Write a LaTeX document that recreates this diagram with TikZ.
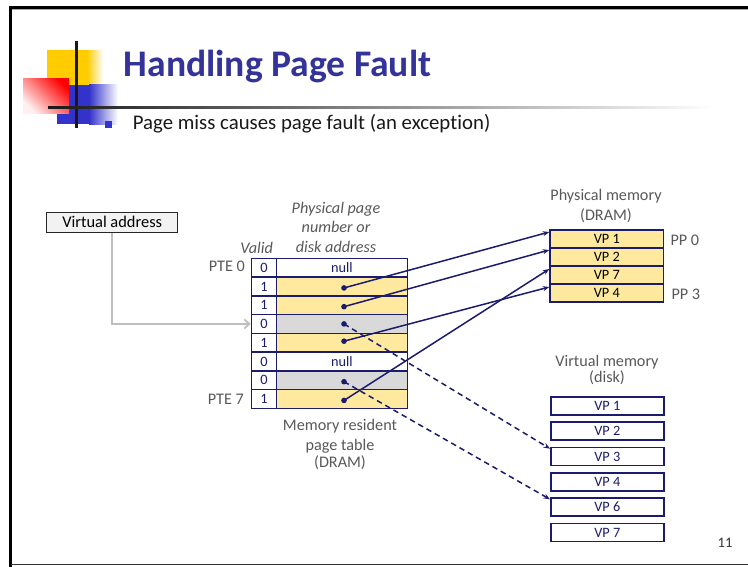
\documentclass[tikz,border=0pt]{standalone}
\usepackage{fontspec}
\setmainfont{Carlito}[Ligatures=NoCommon]
\usetikzlibrary{arrows.meta,calc}
\definecolor{navy}{RGB}{28,28,110}
\definecolor{ttl}{RGB}{51,51,153}
\definecolor{pyel}{RGB}{255,233,158}
\definecolor{pgray}{RGB}{217,217,217}
\definecolor{lgray}{RGB}{89,89,89}
\definecolor{ayel}{RGB}{255,204,0}
\definecolor{ablue}{RGB}{51,51,204}
\definecolor{agray}{RGB}{190,190,190}
\begin{document}
\begin{tikzpicture}[x=1pt,y=-1pt,
  vcell/.style={draw=navy, line width=1.6pt, minimum width=25pt, minimum height=18.75pt, inner sep=0pt, anchor=north west, text=navy, font=\fontsize{14.3}{16}\selectfont},
  dcell/.style={draw=navy, line width=1.6pt, minimum width=131pt, minimum height=18.75pt, inner sep=0pt, anchor=north west, text=navy, font=\fontsize{14.3}{16}\selectfont},
  pmcell/.style={draw=navy, line width=1.6pt, fill=pyel, minimum width=113.4pt, minimum height=18pt, inner sep=0pt, anchor=north west, text=black, font=\fontsize{14.3}{16}\selectfont},
  vmcell/.style={draw=navy, line width=1.6pt, fill=white, minimum width=113pt, minimum height=18pt, inner sep=0pt, anchor=north west, text=navy, font=\fontsize{14.3}{16}\selectfont},
  glabel/.style={text=lgray, inner sep=0pt, font=\fontsize{16.2}{19}\selectfont},
  parr/.style={draw=navy, line width=1.5pt, -{Stealth[length=6.5pt,width=5pt]}},
  darr/.style={draw=navy, line width=1.5pt, dash pattern=on 5.5pt off 4pt, -{Stealth[length=6.5pt,width=5pt]}},
  vaarr/.style={draw=agray, line width=1.8pt, -{Straight Barb[length=5pt,width=9pt]}},
  dotc/.style={fill=navy}
]
\useasboundingbox (0,0) rectangle (748,566);
\fill[white] (0,0) rectangle (748,566);
% frame
\draw[black!35, line width=0.8pt] (12,9.8) -- (760,9.8);
\draw[line width=3pt] (10.5,580) -- (10.5,7.5) -- (760,7.5);
\draw[black!80, line width=1pt] (10.5,564) -- (760,564);
% decoration
\fill[ayel] (47,50) rectangle (87,85);
\shade[left color=ayel, right color=white] (87,50) rectangle (103,85);
\fill[ablue] (57,84.5) rectangle (89,124);
\shade[left color=ablue, right color=white] (89,84.5) rectangle (118,124);
\shade[top color=red, bottom color=red!6, shading angle=-45] (23,78) rectangle (69,113);
\draw[black!90, line width=2.7pt] (76.5,41) -- (76.5,127.5);
\shade[left color=black!90, right color=white] (48,106.2) rectangle (715,108.8);
\fill[ablue] (105,121) rectangle (112,128);
% title
\node[anchor=base west, inner sep=0pt, text=ttl, font=\fontsize{37.6}{40}\selectfont\bfseries] (title) at (123.5,76) {Handling Page Fault};
\node[anchor=base west, inner sep=0pt, text=black!90, font=\fontsize{20.8}{24}\selectfont] (sub) at (132.7,129.3) {Page miss causes page fault (an excep\kern0pt tion)};
% virtual address
\node[draw=black!85, line width=1pt, fill=black!5, minimum width=131pt, minimum height=20pt, inner sep=0pt, font=\fontsize{16.4}{19}\selectfont] (va) at (112.2,222.3) {Virtual address};
% page table
\node[vcell] (v0) at (250.7,257.5) {0};
\node[dcell, fill=white] (d0) at (275.7,257.5) {null};
\node[vcell] (v1) at (250.7,276.25) {1};
\node[dcell, fill=pyel] (d1) at (275.7,276.25) {};
\node[vcell] (v2) at (250.7,295) {1};
\node[dcell, fill=pyel] (d2) at (275.7,295) {};
\node[vcell] (v3) at (250.7,313.75) {0};
\node[dcell, fill=pgray] (d3) at (275.7,313.75) {};
\node[vcell] (v4) at (250.7,332.5) {1};
\node[dcell, fill=pyel] (d4) at (275.7,332.5) {};
\node[vcell] (v5) at (250.7,351.25) {0};
\node[dcell, fill=white] (d5) at (275.7,351.25) {null};
\node[vcell] (v6) at (250.7,370) {0};
\node[dcell, fill=pgray] (d6) at (275.7,370) {};
\node[vcell] (v7) at (250.7,388.75) {1};
\node[dcell, fill=pyel] (d7) at (275.7,388.75) {};
% labels of table
\node[glabel, anchor=base] (valid) at (256.7,253) {\itshape Valid};
\node[glabel, anchor=base] (ph1) at (336,213.3) {\itshape Physical page};
\node[glabel, anchor=base] (ph2) at (336,232.7) {\itshape number or};
\node[glabel, anchor=base] (ph3) at (336,252.7) {\itshape disk address};
\node[glabel, anchor=base east] (pte0) at (245,271.7) {PTE 0};
\node[glabel, anchor=base east] (pte7) at (244,404) {PTE 7};
\node[glabel, anchor=base] (mr1) at (340,430.7) {Memory resident};
\node[glabel, anchor=base] (mr2) at (340,450.2) {page table};
\node[glabel, anchor=base] (mr3) at (340,467.7) {(DRAM)};
% physical memory
\node[glabel, anchor=base] (pmt1) at (606,200) {Physical memory};
\node[glabel, anchor=base] (pmt2) at (606,220.3) {(DRAM)};
\node[pmcell] (pm1) at (549.3,229) {VP 1};
\node[pmcell] (pm2) at (549.3,247) {VP 2};
\node[pmcell] (pm3) at (549.3,265) {VP 7};
\node[pmcell] (pm4) at (549.3,283) {VP 4};
\node[glabel, anchor=west] (pp0) at ($(pm1.east)+(6,1.5)$) {PP 0};
\node[glabel, anchor=west] (pp3) at ($(pm4.east)+(7,1.5)$) {PP 3};
% virtual memory
\node[glabel, anchor=base] (vmt1) at (607,366) {Virtual memory};
\node[glabel, anchor=base] (vmt2) at (607,382.3) {(disk)};
\node[vmcell] (vm1) at (550,396) {VP 1};
\node[vmcell] (vm2) at (550,421.3) {VP 2};
\node[vmcell] (vm3) at (550,446.7) {VP 3};
\node[vmcell] (vm4) at (550,472) {VP 4};
\node[vmcell] (vm6) at (550,497.3) {VP 6};
\node[vmcell] (vm7) at (550,522.7) {VP 7};
% page number
\node[anchor=base, inner sep=0pt, text=black!80, font=\fontsize{14.5}{17}\selectfont] (pgno) at (725,547.3) {11};
% dots
\coordinate (p1) at ($(d1.center)+(2,1.5)$);
\coordinate (p2) at ($(d2.center)+(2,1.5)$);
\coordinate (p3) at ($(d3.center)+(2,0)$);
\coordinate (p4) at ($(d4.center)+(2,-1.5)$);
\coordinate (p6) at ($(d6.center)+(2,1.5)$);
\coordinate (p7) at ($(d7.center)+(2,1.5)$);
% connectors
\draw[vaarr] (va.south) |- (v3.west);
\draw[parr] (p1) -- ($(pm1.north west)+(0,3)$);
\draw[parr] (p2) -- ($(pm2.north west)+(0,3)$);
\draw[parr] (p4) -- ($(pm4.north west)+(0,4)$);
\draw[parr] (p7) -- ($(pm3.north west)+(0,4)$);
\draw[darr] (p3) -- ($(vm3.north west)+(0,2)$);
\draw[darr] (p6) -- ($(vm6.north west)+(0,2)$);
\foreach \p in {p1,p2,p3,p4,p6,p7} \fill[dotc] (\p) circle (2.8pt);
\end{tikzpicture}
\end{document}
